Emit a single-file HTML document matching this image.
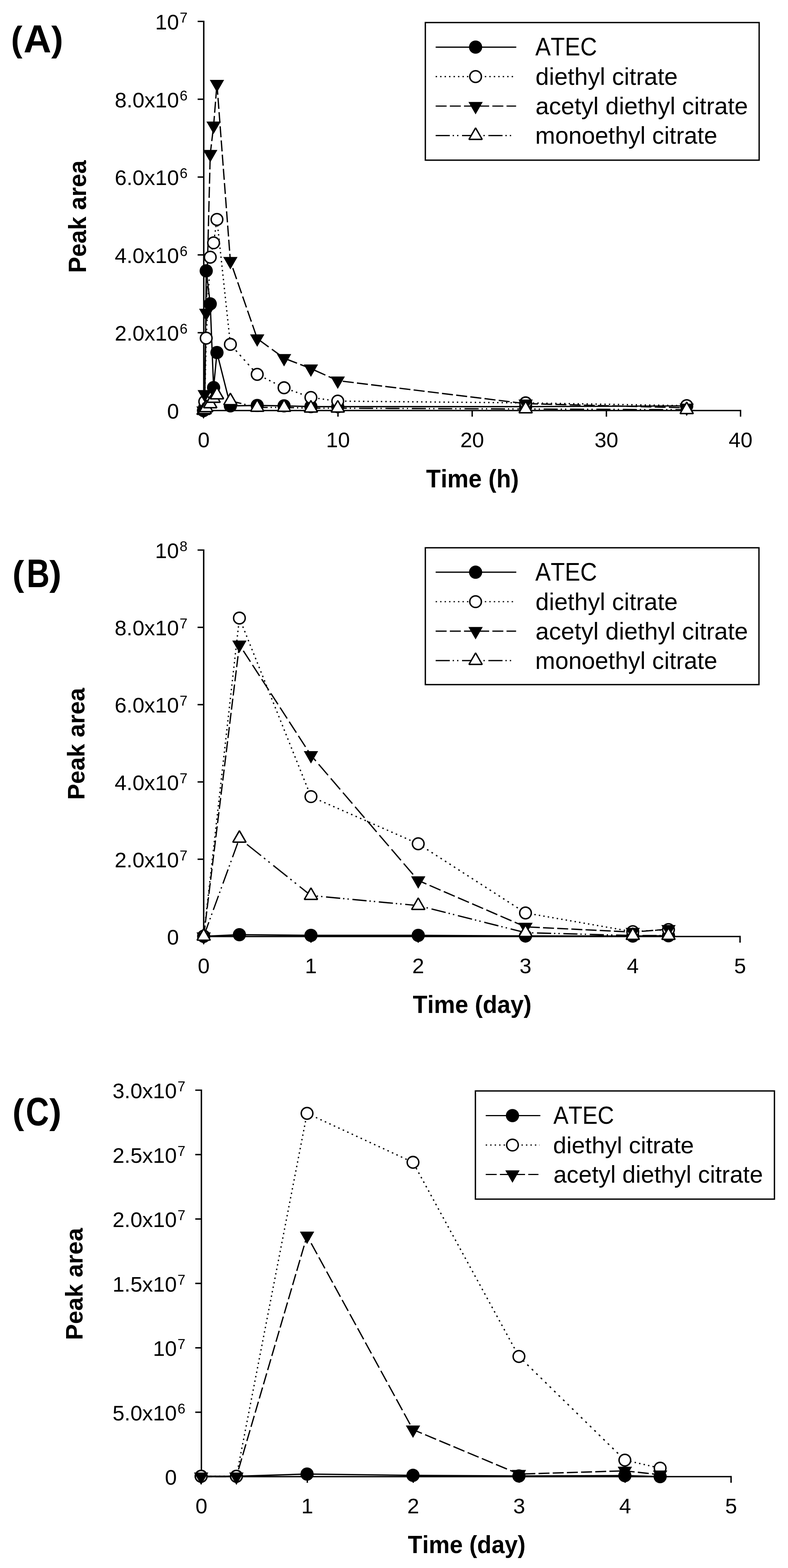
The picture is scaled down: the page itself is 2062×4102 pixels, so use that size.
<!DOCTYPE html>
<html><head><meta charset="utf-8"><title>Peak area vs time</title>
<style>
html,body{margin:0;padding:0;background:#fff;}
svg{display:block;}
text{font-family:"Liberation Sans", Arial, sans-serif;fill:#000;font-kerning:none;font-variant-ligatures:none;}
</style></head><body>
<svg width="2062" height="4102" viewBox="0 0 2062 4102">
<rect width="2062" height="4102" fill="#fff"/>
<path d="M517.2 56H533.2V1074H1937.8" fill="none" stroke="#000" stroke-width="3.7" stroke-linejoin="miter"/>
<path d="M1937.8 1072.15V1090" fill="none" stroke="#000" stroke-width="3.7"/>
<path d="M517.2 1074H533.2" stroke="#000" stroke-width="3.7"/>
<path d="M517.2 870.4H533.2" stroke="#000" stroke-width="3.7"/>
<path d="M517.2 666.8H533.2" stroke="#000" stroke-width="3.7"/>
<path d="M517.2 463.2H533.2" stroke="#000" stroke-width="3.7"/>
<path d="M517.2 259.6H533.2" stroke="#000" stroke-width="3.7"/>
<path d="M533.2 1074V1090" stroke="#000" stroke-width="3.7"/>
<path d="M884.4 1074V1090" stroke="#000" stroke-width="3.7"/>
<path d="M1235.6 1074V1090" stroke="#000" stroke-width="3.7"/>
<path d="M1586.8 1074V1090" stroke="#000" stroke-width="3.7"/>
<polyline points="532.6,1074 535.76,1065.86 539.62,708.54 550.16,795.07 558.94,1013.94 567.72,922.32 602.84,1061.78 673.08,1060.77 743.32,1061.78 813.56,1063.82 883.8,1063.82 1375.48,1063.82 1796.92,1061.78" fill="none" stroke="#000" stroke-width="3.4" stroke-linejoin="round"/>
<line x1="532.6" y1="1074" x2="535.76" y2="1050.59" stroke="#000" stroke-width="3.4" stroke-dasharray="3.63 8.17" stroke-dashoffset="0"/>
<line x1="535.76" y1="1050.59" x2="539.62" y2="884.65" stroke="#000" stroke-width="3.4" stroke-dasharray="3.6 8.1" stroke-dashoffset="0.01"/>
<line x1="539.62" y1="884.65" x2="550.16" y2="672.91" stroke="#000" stroke-width="3.4" stroke-dasharray="3.6 8.11" stroke-dashoffset="2.15"/>
<line x1="550.16" y1="672.91" x2="558.94" y2="635.24" stroke="#000" stroke-width="3.4" stroke-dasharray="3.7 8.32" stroke-dashoffset="3.38"/>
<line x1="558.94" y1="635.24" x2="567.72" y2="574.16" stroke="#000" stroke-width="3.4" stroke-dasharray="3.64 8.18" stroke-dashoffset="5.92"/>
<line x1="567.72" y1="574.16" x2="602.84" y2="900.94" stroke="#000" stroke-width="3.4" stroke-dasharray="3.62 8.15" stroke-dashoffset="8.49"/>
<line x1="602.84" y1="900.94" x2="673.08" y2="979.33" stroke="#000" stroke-width="3.4" stroke-dasharray="4.83 10.88" stroke-dashoffset="10.23"/>
<line x1="673.08" y1="979.33" x2="743.32" y2="1014.45" stroke="#000" stroke-width="3.4" stroke-dasharray="4.02 9.06" stroke-dashoffset="4.59"/>
<line x1="743.32" y1="1014.45" x2="813.56" y2="1039.8" stroke="#000" stroke-width="3.4" stroke-dasharray="3.83 8.61" stroke-dashoffset="4.4"/>
<line x1="813.56" y1="1039.8" x2="883.8" y2="1049.36" stroke="#000" stroke-width="3.4" stroke-dasharray="3.63 8.17" stroke-dashoffset="4.22"/>
<line x1="883.8" y1="1049.36" x2="1375.48" y2="1053.95" stroke="#000" stroke-width="3.4" stroke-dasharray="3.6 8.1" stroke-dashoffset="4.22"/>
<line x1="1375.48" y1="1053.95" x2="1796.92" y2="1061.28" stroke="#000" stroke-width="3.4" stroke-dasharray="3.6 8.1" stroke-dashoffset="4.5"/>
<line x1="532.6" y1="1074" x2="535.76" y2="1031.24" stroke="#000" stroke-width="3.4" stroke-dasharray="28.78 8.42" stroke-dashoffset="0"/>
<line x1="535.76" y1="1031.24" x2="539.62" y2="818.48" stroke="#000" stroke-width="3.4" stroke-dasharray="28.7 8.4" stroke-dashoffset="5.66"/>
<line x1="539.62" y1="818.48" x2="550.16" y2="403.14" stroke="#000" stroke-width="3.4" stroke-dasharray="28.71 8.4" stroke-dashoffset="32.93"/>
<line x1="550.16" y1="403.14" x2="558.94" y2="328.82" stroke="#000" stroke-width="3.4" stroke-dasharray="28.9 8.46" stroke-dashoffset="3.08"/>
<line x1="558.94" y1="328.82" x2="567.72" y2="219.9" stroke="#000" stroke-width="3.4" stroke-dasharray="28.79 8.43" stroke-dashoffset="3.19"/>
<line x1="567.72" y1="219.9" x2="602.84" y2="683.09" stroke="#000" stroke-width="3.4" stroke-dasharray="28.78 8.42" stroke-dashoffset="0.8"/>
<line x1="602.84" y1="683.09" x2="673.08" y2="885.67" stroke="#000" stroke-width="3.4" stroke-dasharray="30.38 8.89" stroke-dashoffset="19.89"/>
<line x1="673.08" y1="885.67" x2="743.32" y2="937.08" stroke="#000" stroke-width="3.4" stroke-dasharray="35.57 10.41" stroke-dashoffset="44.46"/>
<line x1="743.32" y1="937.08" x2="813.56" y2="964.26" stroke="#000" stroke-width="3.4" stroke-dasharray="30.77 9.01" stroke-dashoffset="34.22"/>
<line x1="813.56" y1="964.26" x2="883.8" y2="995.82" stroke="#000" stroke-width="3.4" stroke-dasharray="31.46 9.21" stroke-dashoffset="30.65"/>
<line x1="883.8" y1="995.82" x2="1375.48" y2="1055.98" stroke="#000" stroke-width="3.4" stroke-dasharray="28.91 8.46" stroke-dashoffset="24.17"/>
<line x1="1375.48" y1="1055.98" x2="1796.92" y2="1066.87" stroke="#000" stroke-width="3.4" stroke-dasharray="28.71 8.4" stroke-dashoffset="33.39"/>
<line x1="532.6" y1="1074" x2="535.76" y2="1071.96" stroke="#000" stroke-width="3.4" stroke-dasharray="44.01 8.92 4.16 9.52 4.16 11.3" stroke-dashoffset="0"/>
<line x1="535.76" y1="1071.96" x2="539.62" y2="1066.87" stroke="#000" stroke-width="3.4" stroke-dasharray="46.45 9.42 4.39 10.04 4.39 11.93" stroke-dashoffset="3.97"/>
<line x1="539.62" y1="1066.87" x2="550.16" y2="1056.69" stroke="#000" stroke-width="3.4" stroke-dasharray="51.45 10.43 4.87 11.12 4.87 13.21" stroke-dashoffset="11.47"/>
<line x1="550.16" y1="1056.69" x2="558.94" y2="1042.44" stroke="#000" stroke-width="3.4" stroke-dasharray="43.46 8.81 4.11 9.4 4.11 11.16" stroke-dashoffset="22.07"/>
<line x1="558.94" y1="1042.44" x2="567.72" y2="1033.28" stroke="#000" stroke-width="3.4" stroke-dasharray="51.25 10.39 4.85 11.08 4.85 13.16" stroke-dashoffset="45.76"/>
<line x1="567.72" y1="1033.28" x2="602.84" y2="1048.55" stroke="#000" stroke-width="3.4" stroke-dasharray="40.35 8.18 3.82 8.72 3.82 10.36" stroke-dashoffset="46.02"/>
<line x1="602.84" y1="1048.55" x2="673.08" y2="1065.86" stroke="#000" stroke-width="3.4" stroke-dasharray="38.11 7.72 3.6 8.24 3.6 9.78" stroke-dashoffset="8.57"/>
<line x1="673.08" y1="1065.86" x2="743.32" y2="1065.86" stroke="#000" stroke-width="3.4" stroke-dasharray="37 7.5 3.5 8 3.5 9.5" stroke-dashoffset="9.56"/>
<line x1="743.32" y1="1065.86" x2="813.56" y2="1067.89" stroke="#000" stroke-width="3.4" stroke-dasharray="37.02 7.5 3.5 8 3.5 9.5" stroke-dashoffset="10.81"/>
<line x1="813.56" y1="1067.89" x2="883.8" y2="1067.89" stroke="#000" stroke-width="3.4" stroke-dasharray="37 7.5 3.5 8 3.5 9.5" stroke-dashoffset="12.04"/>
<line x1="883.8" y1="1067.89" x2="1375.48" y2="1069.93" stroke="#000" stroke-width="3.4" stroke-dasharray="37 7.5 3.5 8 3.5 9.5" stroke-dashoffset="13.28"/>
<line x1="1375.48" y1="1069.93" x2="1796.92" y2="1071.96" stroke="#000" stroke-width="3.4" stroke-dasharray="37 7.5 3.5 8 3.5 9.5" stroke-dashoffset="21.96"/>
<circle cx="532.6" cy="1074" r="17.3" fill="#000"/>
<circle cx="535.76" cy="1065.86" r="17.3" fill="#000"/>
<circle cx="539.62" cy="708.54" r="17.3" fill="#000"/>
<circle cx="550.16" cy="795.07" r="17.3" fill="#000"/>
<circle cx="558.94" cy="1013.94" r="17.3" fill="#000"/>
<circle cx="567.72" cy="922.32" r="17.3" fill="#000"/>
<circle cx="602.84" cy="1061.78" r="17.3" fill="#000"/>
<circle cx="673.08" cy="1060.77" r="17.3" fill="#000"/>
<circle cx="743.32" cy="1061.78" r="17.3" fill="#000"/>
<circle cx="813.56" cy="1063.82" r="17.3" fill="#000"/>
<circle cx="883.8" cy="1063.82" r="17.3" fill="#000"/>
<circle cx="1375.48" cy="1063.82" r="17.3" fill="#000"/>
<circle cx="1796.92" cy="1061.78" r="17.3" fill="#000"/>
<circle cx="532.6" cy="1074" r="15.2" fill="#fff" stroke="#000" stroke-width="3.8"/>
<circle cx="535.76" cy="1050.59" r="15.2" fill="#fff" stroke="#000" stroke-width="3.8"/>
<circle cx="539.62" cy="884.65" r="15.2" fill="#fff" stroke="#000" stroke-width="3.8"/>
<circle cx="550.16" cy="672.91" r="15.2" fill="#fff" stroke="#000" stroke-width="3.8"/>
<circle cx="558.94" cy="635.24" r="15.2" fill="#fff" stroke="#000" stroke-width="3.8"/>
<circle cx="567.72" cy="574.16" r="15.2" fill="#fff" stroke="#000" stroke-width="3.8"/>
<circle cx="602.84" cy="900.94" r="15.2" fill="#fff" stroke="#000" stroke-width="3.8"/>
<circle cx="673.08" cy="979.33" r="15.2" fill="#fff" stroke="#000" stroke-width="3.8"/>
<circle cx="743.32" cy="1014.45" r="15.2" fill="#fff" stroke="#000" stroke-width="3.8"/>
<circle cx="813.56" cy="1039.8" r="15.2" fill="#fff" stroke="#000" stroke-width="3.8"/>
<circle cx="883.8" cy="1049.36" r="15.2" fill="#fff" stroke="#000" stroke-width="3.8"/>
<circle cx="1375.48" cy="1053.95" r="15.2" fill="#fff" stroke="#000" stroke-width="3.8"/>
<circle cx="1796.92" cy="1061.28" r="15.2" fill="#fff" stroke="#000" stroke-width="3.8"/>
<path d="M513.85 1063.17H551.35L532.6 1095.67Z" fill="#000"/>
<path d="M517.01 1020.41H554.51L535.76 1052.91Z" fill="#000"/>
<path d="M520.87 807.65H558.37L539.62 840.15Z" fill="#000"/>
<path d="M531.41 392.3H568.91L550.16 424.8Z" fill="#000"/>
<path d="M540.19 317.99H577.69L558.94 350.49Z" fill="#000"/>
<path d="M548.97 209.06H586.47L567.72 241.56Z" fill="#000"/>
<path d="M584.09 672.25H621.59L602.84 704.75Z" fill="#000"/>
<path d="M654.33 874.84H691.83L673.08 907.34Z" fill="#000"/>
<path d="M724.57 926.25H762.07L743.32 958.75Z" fill="#000"/>
<path d="M794.81 953.43H832.31L813.56 985.93Z" fill="#000"/>
<path d="M865.05 984.98H902.55L883.8 1017.48Z" fill="#000"/>
<path d="M1356.73 1045.15H1394.23L1375.48 1077.65Z" fill="#000"/>
<path d="M1778.17 1056.04H1815.67L1796.92 1088.54Z" fill="#000"/>
<path d="M532.6 1054L549.9 1084H515.3Z" fill="#fff" stroke="#000" stroke-width="3.7" stroke-linejoin="bevel"/>
<path d="M535.76 1051.96L553.06 1081.96H518.46Z" fill="#fff" stroke="#000" stroke-width="3.7" stroke-linejoin="bevel"/>
<path d="M539.62 1046.87L556.92 1076.87H522.32Z" fill="#fff" stroke="#000" stroke-width="3.7" stroke-linejoin="bevel"/>
<path d="M550.16 1036.69L567.46 1066.69H532.86Z" fill="#fff" stroke="#000" stroke-width="3.7" stroke-linejoin="bevel"/>
<path d="M558.94 1022.44L576.24 1052.44H541.64Z" fill="#fff" stroke="#000" stroke-width="3.7" stroke-linejoin="bevel"/>
<path d="M567.72 1013.28L585.02 1043.28H550.42Z" fill="#fff" stroke="#000" stroke-width="3.7" stroke-linejoin="bevel"/>
<path d="M602.84 1028.55L620.14 1058.55H585.54Z" fill="#fff" stroke="#000" stroke-width="3.7" stroke-linejoin="bevel"/>
<path d="M673.08 1045.86L690.38 1075.86H655.78Z" fill="#fff" stroke="#000" stroke-width="3.7" stroke-linejoin="bevel"/>
<path d="M743.32 1045.86L760.62 1075.86H726.02Z" fill="#fff" stroke="#000" stroke-width="3.7" stroke-linejoin="bevel"/>
<path d="M813.56 1047.89L830.86 1077.89H796.26Z" fill="#fff" stroke="#000" stroke-width="3.7" stroke-linejoin="bevel"/>
<path d="M883.8 1047.89L901.1 1077.89H866.5Z" fill="#fff" stroke="#000" stroke-width="3.7" stroke-linejoin="bevel"/>
<path d="M1375.48 1049.93L1392.78 1079.93H1358.18Z" fill="#fff" stroke="#000" stroke-width="3.7" stroke-linejoin="bevel"/>
<path d="M1796.92 1051.96L1814.22 1081.96H1779.62Z" fill="#fff" stroke="#000" stroke-width="3.7" stroke-linejoin="bevel"/>
<text x="468.3" y="1095" font-size="56" text-anchor="end">0</text>
<text x="468.3" y="891.4" font-size="56" text-anchor="end">2.0x10<tspan x="470.3" y="873.4" font-size="37" text-anchor="start">6</tspan></text>
<text x="468.3" y="687.8" font-size="56" text-anchor="end">4.0x10<tspan x="470.3" y="669.8" font-size="37" text-anchor="start">6</tspan></text>
<text x="468.3" y="484.2" font-size="56" text-anchor="end">6.0x10<tspan x="470.3" y="466.2" font-size="37" text-anchor="start">6</tspan></text>
<text x="468.3" y="280.6" font-size="56" text-anchor="end">8.0x10<tspan x="470.3" y="262.6" font-size="37" text-anchor="start">6</tspan></text>
<text x="468.3" y="77" font-size="56" text-anchor="end">10<tspan x="470.3" y="59" font-size="37" text-anchor="start">7</tspan></text>
<text x="533.2" y="1170" font-size="56" text-anchor="middle">0</text>
<text x="884.4" y="1170" font-size="56" text-anchor="middle">10</text>
<text x="1235.6" y="1170" font-size="56" text-anchor="middle">20</text>
<text x="1586.8" y="1170" font-size="56" text-anchor="middle">30</text>
<text x="1938" y="1170" font-size="56" text-anchor="middle">40</text>
<text x="0" y="0" font-size="66.42" font-weight="bold" transform="translate(1115.10 1275.10) scale(0.9400 1)">Time (h)</text>
<text x="0" y="0" font-size="64.73" font-weight="bold" transform="translate(224.80 714.02) rotate(-90) scale(0.9744 1)">Peak area</text>
<rect x="1113" y="59" width="873.5" height="360" fill="#fff" stroke="#000" stroke-width="3.5"/>
<polyline points="1140,123.3 1351,123.3" fill="none" stroke="#000" stroke-width="3.2" stroke-linejoin="round"/>
<circle cx="1244.5" cy="123.3" r="17.3" fill="#000"/>
<text x="0" y="0" font-size="66.72" transform="translate(1400.68 144.90) scale(0.9078 1)">ATEC</text>
<line x1="1140" y1="200.4" x2="1345" y2="200.4" stroke="#000" stroke-width="3.2" stroke-dasharray="3.6 8.1" stroke-dashoffset="0"/>
<circle cx="1244.5" cy="200.4" r="15.2" fill="#fff" stroke="#000" stroke-width="3.8"/>
<text x="0" y="0" font-size="63.21" transform="translate(1401.25 221.80) scale(0.9994 1)">diethyl citrate</text>
<line x1="1140" y1="277.5" x2="1350.5" y2="277.5" stroke="#000" stroke-width="3.2" stroke-dasharray="28.7 8.4" stroke-dashoffset="0"/>
<path d="M1225.75 266.67H1263.25L1244.5 299.17Z" fill="#000"/>
<text x="0" y="0" font-size="63.35" transform="translate(1401.21 299.00) scale(0.9999 1)">acetyl diethyl citrate</text>
<line x1="1140" y1="354.6" x2="1345" y2="354.6" stroke="#000" stroke-width="3.2" stroke-dasharray="37 7.5 3.5 8 3.5 9.5" stroke-dashoffset="0"/>
<path d="M1244.5 334.6L1261.8 364.6H1227.2Z" fill="#fff" stroke="#000" stroke-width="3.7" stroke-linejoin="bevel"/>
<text x="0" y="0" font-size="62.79" transform="translate(1400.54 375.90) scale(0.9968 1)">monoethyl citrate</text>
<text font-weight="bold"><tspan x="28.70" y="134.24" font-size="92.80" textLength="30.09" lengthAdjust="spacingAndGlyphs">(</tspan><tspan x="61.59" y="137.30" font-size="102.18" textLength="72.77" lengthAdjust="spacingAndGlyphs">A</tspan><tspan x="133.91" y="134.24" font-size="92.80" textLength="31.39" lengthAdjust="spacingAndGlyphs">)</tspan></text>
<path d="M517 1439H533V2450H1936.5" fill="none" stroke="#000" stroke-width="3.7" stroke-linejoin="miter"/>
<path d="M1936.5 2448.15V2466" fill="none" stroke="#000" stroke-width="3.7"/>
<path d="M517 2450H533" stroke="#000" stroke-width="3.7"/>
<path d="M517 2247.8H533" stroke="#000" stroke-width="3.7"/>
<path d="M517 2045.6H533" stroke="#000" stroke-width="3.7"/>
<path d="M517 1843.4H533" stroke="#000" stroke-width="3.7"/>
<path d="M517 1641.2H533" stroke="#000" stroke-width="3.7"/>
<path d="M533 2450V2466" stroke="#000" stroke-width="3.7"/>
<path d="M813.7 2450V2466" stroke="#000" stroke-width="3.7"/>
<path d="M1094.4 2450V2466" stroke="#000" stroke-width="3.7"/>
<path d="M1375.1 2450V2466" stroke="#000" stroke-width="3.7"/>
<path d="M1655.8 2450V2466" stroke="#000" stroke-width="3.7"/>
<polyline points="533,2449.49 626.47,2445.25 813.7,2446.97 1094.4,2446.97 1375.1,2448.48 1655.8,2448.79 1749.27,2447.98" fill="none" stroke="#000" stroke-width="3.4" stroke-linejoin="round"/>
<line x1="533" y1="2448.99" x2="626.47" y2="1616.94" stroke="#000" stroke-width="3.4" stroke-dasharray="3.62 8.15" stroke-dashoffset="0"/>
<line x1="626.47" y1="1616.94" x2="813.7" y2="2084.02" stroke="#000" stroke-width="3.4" stroke-dasharray="3.88 8.73" stroke-dashoffset="1.46"/>
<line x1="813.7" y1="2084.02" x2="1094.4" y2="2207.36" stroke="#000" stroke-width="3.4" stroke-dasharray="3.93 8.85" stroke-dashoffset="0.48"/>
<line x1="1094.4" y1="2207.36" x2="1375.1" y2="2388.33" stroke="#000" stroke-width="3.4" stroke-dasharray="4.28 9.64" stroke-dashoffset="0.4"/>
<line x1="1375.1" y1="2388.33" x2="1655.8" y2="2437.36" stroke="#000" stroke-width="3.4" stroke-dasharray="3.65 8.22" stroke-dashoffset="0.24"/>
<line x1="1655.8" y1="2437.36" x2="1749.27" y2="2431.8" stroke="#000" stroke-width="3.4" stroke-dasharray="3.61 8.11" stroke-dashoffset="0.14"/>
<line x1="533" y1="2450" x2="626.47" y2="1686.7" stroke="#000" stroke-width="3.4" stroke-dasharray="28.91 8.46" stroke-dashoffset="0"/>
<line x1="626.47" y1="1686.7" x2="813.7" y2="1975.84" stroke="#000" stroke-width="3.4" stroke-dasharray="34.19 10.01" stroke-dashoffset="25.38"/>
<line x1="813.7" y1="1975.84" x2="1094.4" y2="2303.41" stroke="#000" stroke-width="3.4" stroke-dasharray="37.8 11.06" stroke-dashoffset="17.98"/>
<line x1="1094.4" y1="2303.41" x2="1375.1" y2="2424.72" stroke="#000" stroke-width="3.4" stroke-dasharray="31.27 9.15" stroke-dashoffset="7.97"/>
<line x1="1375.1" y1="2424.72" x2="1655.8" y2="2438.37" stroke="#000" stroke-width="3.4" stroke-dasharray="28.73 8.41" stroke-dashoffset="28.35"/>
<line x1="1655.8" y1="2438.37" x2="1749.27" y2="2430.79" stroke="#000" stroke-width="3.4" stroke-dasharray="28.79 8.43" stroke-dashoffset="12.26"/>
<line x1="533" y1="2449.49" x2="626.47" y2="2193.21" stroke="#000" stroke-width="3.4" stroke-dasharray="39.38 7.98 3.73 8.52 3.73 10.11" stroke-dashoffset="0"/>
<line x1="626.47" y1="2193.21" x2="813.7" y2="2342.83" stroke="#000" stroke-width="3.4" stroke-dasharray="47.36 9.6 4.48 10.24 4.48 12.16" stroke-dashoffset="63.09"/>
<line x1="813.7" y1="2342.83" x2="1094.4" y2="2369.12" stroke="#000" stroke-width="3.4" stroke-dasharray="37.16 7.53 3.52 8.04 3.52 9.54" stroke-dashoffset="29.64"/>
<line x1="1094.4" y1="2369.12" x2="1375.1" y2="2439.89" stroke="#000" stroke-width="3.4" stroke-dasharray="38.16 7.73 3.61 8.25 3.61 9.8" stroke-dashoffset="35.29"/>
<line x1="1375.1" y1="2439.89" x2="1655.8" y2="2447.47" stroke="#000" stroke-width="3.4" stroke-dasharray="37.01 7.5 3.5 8 3.5 9.5" stroke-dashoffset="38.93"/>
<line x1="1655.8" y1="2447.47" x2="1749.27" y2="2447.47" stroke="#000" stroke-width="3.4" stroke-dasharray="37 7.5 3.5 8 3.5 9.5" stroke-dashoffset="43.62"/>
<circle cx="533" cy="2449.49" r="17.3" fill="#000"/>
<circle cx="626.47" cy="2445.25" r="17.3" fill="#000"/>
<circle cx="813.7" cy="2446.97" r="17.3" fill="#000"/>
<circle cx="1094.4" cy="2446.97" r="17.3" fill="#000"/>
<circle cx="1375.1" cy="2448.48" r="17.3" fill="#000"/>
<circle cx="1655.8" cy="2448.79" r="17.3" fill="#000"/>
<circle cx="1749.27" cy="2447.98" r="17.3" fill="#000"/>
<circle cx="533" cy="2448.99" r="15.2" fill="#fff" stroke="#000" stroke-width="3.8"/>
<circle cx="626.47" cy="1616.94" r="15.2" fill="#fff" stroke="#000" stroke-width="3.8"/>
<circle cx="813.7" cy="2084.02" r="15.2" fill="#fff" stroke="#000" stroke-width="3.8"/>
<circle cx="1094.4" cy="2207.36" r="15.2" fill="#fff" stroke="#000" stroke-width="3.8"/>
<circle cx="1375.1" cy="2388.33" r="15.2" fill="#fff" stroke="#000" stroke-width="3.8"/>
<circle cx="1655.8" cy="2437.36" r="15.2" fill="#fff" stroke="#000" stroke-width="3.8"/>
<circle cx="1749.27" cy="2431.8" r="15.2" fill="#fff" stroke="#000" stroke-width="3.8"/>
<path d="M514.25 2439.17H551.75L533 2471.67Z" fill="#000"/>
<path d="M607.72 1675.86H645.22L626.47 1708.36Z" fill="#000"/>
<path d="M794.95 1965.01H832.45L813.7 1997.51Z" fill="#000"/>
<path d="M1075.65 2292.57H1113.15L1094.4 2325.07Z" fill="#000"/>
<path d="M1356.35 2413.89H1393.85L1375.1 2446.39Z" fill="#000"/>
<path d="M1637.05 2427.54H1674.55L1655.8 2460.04Z" fill="#000"/>
<path d="M1730.52 2419.96H1768.02L1749.27 2452.46Z" fill="#000"/>
<path d="M533 2429.49L550.3 2459.49H515.7Z" fill="#fff" stroke="#000" stroke-width="3.7" stroke-linejoin="bevel"/>
<path d="M626.47 2173.21L643.77 2203.21H609.17Z" fill="#fff" stroke="#000" stroke-width="3.7" stroke-linejoin="bevel"/>
<path d="M813.7 2322.83L831 2352.83H796.4Z" fill="#fff" stroke="#000" stroke-width="3.7" stroke-linejoin="bevel"/>
<path d="M1094.4 2349.12L1111.7 2379.12H1077.1Z" fill="#fff" stroke="#000" stroke-width="3.7" stroke-linejoin="bevel"/>
<path d="M1375.1 2419.89L1392.4 2449.89H1357.8Z" fill="#fff" stroke="#000" stroke-width="3.7" stroke-linejoin="bevel"/>
<path d="M1655.8 2427.47L1673.1 2457.47H1638.5Z" fill="#fff" stroke="#000" stroke-width="3.7" stroke-linejoin="bevel"/>
<path d="M1749.27 2427.47L1766.57 2457.47H1731.97Z" fill="#fff" stroke="#000" stroke-width="3.7" stroke-linejoin="bevel"/>
<text x="468.1" y="2471" font-size="56" text-anchor="end">0</text>
<text x="468.1" y="2268.8" font-size="56" text-anchor="end">2.0x10<tspan x="470.1" y="2250.8" font-size="37" text-anchor="start">7</tspan></text>
<text x="468.1" y="2066.6" font-size="56" text-anchor="end">4.0x10<tspan x="470.1" y="2048.6" font-size="37" text-anchor="start">7</tspan></text>
<text x="468.1" y="1864.4" font-size="56" text-anchor="end">6.0x10<tspan x="470.1" y="1846.4" font-size="37" text-anchor="start">7</tspan></text>
<text x="468.1" y="1662.2" font-size="56" text-anchor="end">8.0x10<tspan x="470.1" y="1644.2" font-size="37" text-anchor="start">7</tspan></text>
<text x="468.1" y="1460" font-size="56" text-anchor="end">10<tspan x="470.1" y="1442" font-size="37" text-anchor="start">8</tspan></text>
<text x="533" y="2546" font-size="56" text-anchor="middle">0</text>
<text x="813.7" y="2546" font-size="56" text-anchor="middle">1</text>
<text x="1094.4" y="2546" font-size="56" text-anchor="middle">2</text>
<text x="1375.1" y="2546" font-size="56" text-anchor="middle">3</text>
<text x="1655.8" y="2546" font-size="56" text-anchor="middle">4</text>
<text x="1936.5" y="2546" font-size="56" text-anchor="middle">5</text>
<text x="0" y="0" font-size="64.97" font-weight="bold" transform="translate(1080.20 2649.80) scale(0.9568 1)">Time (day)</text>
<text x="0" y="0" font-size="63.74" font-weight="bold" transform="translate(220.90 2092.60) rotate(-90) scale(0.9845 1)">Peak area</text>
<rect x="1113" y="1433" width="873" height="358" fill="#fff" stroke="#000" stroke-width="3.5"/>
<polyline points="1140,1496.9 1351,1496.9" fill="none" stroke="#000" stroke-width="3.2" stroke-linejoin="round"/>
<circle cx="1244.5" cy="1496.9" r="17.3" fill="#000"/>
<text x="0" y="0" font-size="66.72" transform="translate(1400.68 1518.90) scale(0.9078 1)">ATEC</text>
<line x1="1140" y1="1574" x2="1345" y2="1574" stroke="#000" stroke-width="3.2" stroke-dasharray="3.6 8.1" stroke-dashoffset="0"/>
<circle cx="1244.5" cy="1574" r="15.2" fill="#fff" stroke="#000" stroke-width="3.8"/>
<text x="0" y="0" font-size="63.21" transform="translate(1401.25 1595.80) scale(0.9994 1)">diethyl citrate</text>
<line x1="1140" y1="1651.1" x2="1350.5" y2="1651.1" stroke="#000" stroke-width="3.2" stroke-dasharray="28.7 8.4" stroke-dashoffset="0"/>
<path d="M1225.75 1640.27H1263.25L1244.5 1672.77Z" fill="#000"/>
<text x="0" y="0" font-size="63.35" transform="translate(1401.21 1673.00) scale(0.9999 1)">acetyl diethyl citrate</text>
<line x1="1140" y1="1728.2" x2="1345" y2="1728.2" stroke="#000" stroke-width="3.2" stroke-dasharray="37 7.5 3.5 8 3.5 9.5" stroke-dashoffset="0"/>
<path d="M1244.5 1708.2L1261.8 1738.2H1227.2Z" fill="#fff" stroke="#000" stroke-width="3.7" stroke-linejoin="bevel"/>
<text x="0" y="0" font-size="62.79" transform="translate(1400.54 1749.90) scale(0.9968 1)">monoethyl citrate</text>
<text font-weight="bold"><tspan x="32.41" y="1532.35" font-size="93.23" textLength="30.68" lengthAdjust="spacingAndGlyphs">(</tspan><tspan x="69.64" y="1535.80" font-size="103.20" textLength="60.04" lengthAdjust="spacingAndGlyphs">B</tspan><tspan x="128.91" y="1532.35" font-size="93.23" textLength="31.86" lengthAdjust="spacingAndGlyphs">)</tspan></text>
<path d="M511 2852H527V3863H1913" fill="none" stroke="#000" stroke-width="3.7" stroke-linejoin="miter"/>
<path d="M1913 3861.15V3879" fill="none" stroke="#000" stroke-width="3.7"/>
<path d="M511 3863H527" stroke="#000" stroke-width="3.7"/>
<path d="M511 3694.5H527" stroke="#000" stroke-width="3.7"/>
<path d="M511 3526H527" stroke="#000" stroke-width="3.7"/>
<path d="M511 3357.5H527" stroke="#000" stroke-width="3.7"/>
<path d="M511 3189H527" stroke="#000" stroke-width="3.7"/>
<path d="M511 3020.5H527" stroke="#000" stroke-width="3.7"/>
<path d="M527 3863V3879" stroke="#000" stroke-width="3.7"/>
<path d="M804.2 3863V3879" stroke="#000" stroke-width="3.7"/>
<path d="M1081.4 3863V3879" stroke="#000" stroke-width="3.7"/>
<path d="M1358.6 3863V3879" stroke="#000" stroke-width="3.7"/>
<path d="M1635.8 3863V3879" stroke="#000" stroke-width="3.7"/>
<polyline points="526.3,3861.99 618.61,3861.99 803.5,3856.26 1080.7,3859.63 1357.9,3861.32 1635.1,3860.3 1727.41,3863" fill="none" stroke="#000" stroke-width="3.4" stroke-linejoin="round"/>
<line x1="526.3" y1="3861.99" x2="618.61" y2="3861.99" stroke="#000" stroke-width="3.4" stroke-dasharray="3.6 8.1" stroke-dashoffset="0"/>
<line x1="618.61" y1="3861.99" x2="803.5" y2="2912.66" stroke="#000" stroke-width="3.4" stroke-dasharray="3.67 8.25" stroke-dashoffset="10.6"/>
<line x1="803.5" y1="2912.66" x2="1080.7" y2="3040.72" stroke="#000" stroke-width="3.4" stroke-dasharray="3.97 8.92" stroke-dashoffset="0.37"/>
<line x1="1080.7" y1="3040.72" x2="1357.9" y2="3548.58" stroke="#000" stroke-width="3.4" stroke-dasharray="4.1 9.23" stroke-dashoffset="9.61"/>
<line x1="1357.9" y1="3548.58" x2="1635.1" y2="3819.86" stroke="#000" stroke-width="3.4" stroke-dasharray="5.04 11.33" stroke-dashoffset="2.09"/>
<line x1="1635.1" y1="3819.86" x2="1727.41" y2="3840.76" stroke="#000" stroke-width="3.4" stroke-dasharray="3.69 8.3" stroke-dashoffset="9.84"/>
<line x1="526.3" y1="3863" x2="618.61" y2="3863" stroke="#000" stroke-width="3.4" stroke-dasharray="28.7 8.4" stroke-dashoffset="0"/>
<line x1="618.61" y1="3863" x2="803.5" y2="3232.81" stroke="#000" stroke-width="3.4" stroke-dasharray="29.91 8.75" stroke-dashoffset="18.87"/>
<line x1="803.5" y1="3232.81" x2="1080.7" y2="3739.99" stroke="#000" stroke-width="3.4" stroke-dasharray="32.71 9.57" stroke-dashoffset="20.05"/>
<line x1="1080.7" y1="3739.99" x2="1357.9" y2="3856.26" stroke="#000" stroke-width="3.4" stroke-dasharray="31.12 9.11" stroke-dashoffset="5.84"/>
<line x1="1357.9" y1="3856.26" x2="1635.1" y2="3847.84" stroke="#000" stroke-width="3.4" stroke-dasharray="28.71 8.4" stroke-dashoffset="22.89"/>
<line x1="1635.1" y1="3847.84" x2="1727.41" y2="3857.95" stroke="#000" stroke-width="3.4" stroke-dasharray="28.87 8.45" stroke-dashoffset="3.3"/>
<circle cx="526.3" cy="3861.99" r="17.3" fill="#000"/>
<circle cx="618.61" cy="3861.99" r="17.3" fill="#000"/>
<circle cx="803.5" cy="3856.26" r="17.3" fill="#000"/>
<circle cx="1080.7" cy="3859.63" r="17.3" fill="#000"/>
<circle cx="1357.9" cy="3861.32" r="17.3" fill="#000"/>
<circle cx="1635.1" cy="3860.3" r="17.3" fill="#000"/>
<circle cx="1727.41" cy="3863" r="17.3" fill="#000"/>
<circle cx="526.3" cy="3861.99" r="15.2" fill="#fff" stroke="#000" stroke-width="3.8"/>
<circle cx="618.61" cy="3861.99" r="15.2" fill="#fff" stroke="#000" stroke-width="3.8"/>
<circle cx="803.5" cy="2912.66" r="15.2" fill="#fff" stroke="#000" stroke-width="3.8"/>
<circle cx="1080.7" cy="3040.72" r="15.2" fill="#fff" stroke="#000" stroke-width="3.8"/>
<circle cx="1357.9" cy="3548.58" r="15.2" fill="#fff" stroke="#000" stroke-width="3.8"/>
<circle cx="1635.1" cy="3819.86" r="15.2" fill="#fff" stroke="#000" stroke-width="3.8"/>
<circle cx="1727.41" cy="3840.76" r="15.2" fill="#fff" stroke="#000" stroke-width="3.8"/>
<path d="M507.55 3852.17H545.05L526.3 3884.67Z" fill="#000"/>
<path d="M599.86 3852.17H637.36L618.61 3884.67Z" fill="#000"/>
<path d="M784.75 3221.98H822.25L803.5 3254.48Z" fill="#000"/>
<path d="M1061.95 3729.16H1099.45L1080.7 3761.66Z" fill="#000"/>
<path d="M1339.15 3845.43H1376.65L1357.9 3877.93Z" fill="#000"/>
<path d="M1616.35 3837H1653.85L1635.1 3869.5Z" fill="#000"/>
<path d="M1708.66 3847.11H1746.16L1727.41 3879.61Z" fill="#000"/>
<text x="462.6" y="3884" font-size="56" text-anchor="end">0</text>
<text x="462.6" y="3715.5" font-size="56" text-anchor="end">5.0x10<tspan x="464.6" y="3697.5" font-size="37" text-anchor="start">6</tspan></text>
<text x="462.6" y="3547" font-size="56" text-anchor="end">10<tspan x="464.6" y="3529" font-size="37" text-anchor="start">7</tspan></text>
<text x="462.6" y="3378.5" font-size="56" text-anchor="end">1.5x10<tspan x="464.6" y="3360.5" font-size="37" text-anchor="start">7</tspan></text>
<text x="462.6" y="3210" font-size="56" text-anchor="end">2.0x10<tspan x="464.6" y="3192" font-size="37" text-anchor="start">7</tspan></text>
<text x="462.6" y="3041.5" font-size="56" text-anchor="end">2.5x10<tspan x="464.6" y="3023.5" font-size="37" text-anchor="start">7</tspan></text>
<text x="462.6" y="2873" font-size="56" text-anchor="end">3.0x10<tspan x="464.6" y="2855" font-size="37" text-anchor="start">7</tspan></text>
<text x="527" y="3959" font-size="56" text-anchor="middle">0</text>
<text x="804.2" y="3959" font-size="56" text-anchor="middle">1</text>
<text x="1081.4" y="3959" font-size="56" text-anchor="middle">2</text>
<text x="1358.6" y="3959" font-size="56" text-anchor="middle">3</text>
<text x="1635.8" y="3959" font-size="56" text-anchor="middle">4</text>
<text x="1913" y="3959" font-size="56" text-anchor="middle">5</text>
<text x="0" y="0" font-size="65.12" font-weight="bold" transform="translate(1067.31 4062.90) scale(0.9457 1)">Time (day)</text>
<text x="0" y="0" font-size="63.74" font-weight="bold" transform="translate(216.00 3505.70) rotate(-90) scale(0.9855 1)">Peak area</text>
<rect x="1244" y="2854" width="782.5" height="283" fill="#fff" stroke="#000" stroke-width="3.5"/>
<polyline points="1271,2918.5 1414,2918.5" fill="none" stroke="#000" stroke-width="3.2" stroke-linejoin="round"/>
<circle cx="1341" cy="2918.5" r="17.3" fill="#000"/>
<text x="0" y="0" font-size="65.70" transform="translate(1447.88 2939.90) scale(0.9068 1)">ATEC</text>
<line x1="1271" y1="2995.5" x2="1412" y2="2995.5" stroke="#000" stroke-width="3.2" stroke-dasharray="3.6 8.1" stroke-dashoffset="0"/>
<circle cx="1341" cy="2995.5" r="15.2" fill="#fff" stroke="#000" stroke-width="3.8"/>
<text x="0" y="0" font-size="61.97" transform="translate(1447.37 3017.10) scale(1.0091 1)">diethyl citrate</text>
<line x1="1271" y1="3072.5" x2="1409" y2="3072.5" stroke="#000" stroke-width="3.2" stroke-dasharray="28.7 8.4" stroke-dashoffset="0"/>
<path d="M1322.25 3061.67H1359.75L1341 3094.17Z" fill="#000"/>
<text x="0" y="0" font-size="62.52" transform="translate(1448.15 3094.40) scale(0.9989 1)">acetyl diethyl citrate</text>
<text font-weight="bold"><tspan x="32.41" y="2940.38" font-size="93.12" textLength="30.68" lengthAdjust="spacingAndGlyphs">(</tspan><tspan x="67.56" y="2943.99" font-size="103.11" textLength="60.64" lengthAdjust="spacingAndGlyphs">C</tspan><tspan x="128.91" y="2940.38" font-size="93.12" textLength="31.86" lengthAdjust="spacingAndGlyphs">)</tspan></text>
</svg>
</body></html>
